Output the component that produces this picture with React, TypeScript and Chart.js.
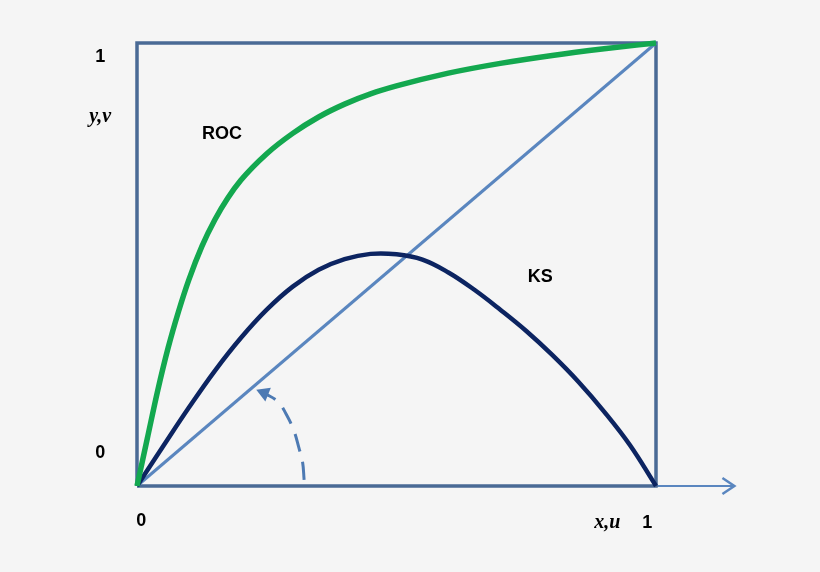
import { useEffect, useRef } from "react";
import { Chart, registerables } from "chart.js";

Chart.register(...registerables);

// curve samples (x = u, y = v)
const rocX = [0, 0.02, 0.04, 0.06, 0.08, 0.1, 0.125, 0.15, 0.175, 0.2, 0.25, 0.3, 0.35, 0.4, 0.45, 0.5, 0.6, 0.7, 0.8, 0.9, 1];
const rocY = [0, 0.108, 0.216, 0.312, 0.394, 0.466, 0.541, 0.601, 0.65, 0.69, 0.75, 0.796, 0.833, 0.862, 0.885, 0.903, 0.932, 0.954, 0.972, 0.987, 1];

const ksX = [0, 0.05, 0.1, 0.15, 0.2, 0.25, 0.3, 0.35, 0.4, 0.45, 0.5, 0.55, 0.6, 0.65, 0.7, 0.75, 0.8, 0.85, 0.9, 0.95, 1];
const ksY = [0, 0.089, 0.177, 0.26, 0.334, 0.398, 0.45, 0.488, 0.512, 0.524, 0.523, 0.511, 0.482, 0.443, 0.398, 0.35, 0.296, 0.236, 0.168, 0.092, 0];

const diagX = [0, 1];
const diagY = [0, 1];

const boxX = [0, 1, 1, 0, 0];
const boxY = [0, 0, 1, 1, 0];

const axisX = [1, 1.151];
const axisY = [0, 0];
const headX = [1.128, 1.151, 1.128];
const headY = [0.018, 0, -0.018];

const arcX = [0.322, 0.319, 0.312, 0.302, 0.287, 0.272, 0.245];
const arcY = [0.014, 0.054, 0.086, 0.126, 0.163, 0.19, 0.21];

const labelText = ["1", "y,v", "0", "0", "x,u", "1", "ROC", "KS"];
const labelX = [-0.071, -0.071, -0.071, 0.008, 0.906, 0.983, 0.164, 0.777];
const labelY = [0.968, 0.833, 0.074, -0.079, -0.084, -0.084, 0.795, 0.472];

const zip = (xs: number[], ys: number[]) => xs.map((x, i) => ({ x, y: ys[i] }));

const labelFont = (t: string) => {
    if (t === "y,v" || t === "x,u") return "italic bold 20px 'Liberation Serif', serif";
    return "bold 18px 'Liberation Sans', Arial, sans-serif";
};

const textPlugin = {
    id: "textLabels",
    beforeDraw: (chart: Chart) => {
        const c = chart.ctx;
        c.save();
        c.fillStyle = "#f5f5f5";
        c.fillRect(0, 0, chart.width, chart.height);
        c.restore();
    },
    afterDatasetsDraw: (chart: Chart) => {
        const c = chart.ctx;
        const xs = chart.scales.x;
        const ys = chart.scales.y;
        c.save();
        c.fillStyle = "#000000";
        c.textAlign = "center";
        c.textBaseline = "middle";
        labelText.forEach((t, i) => {
            c.font = labelFont(t);
            c.fillText(t, xs.getPixelForValue(labelX[i]), ys.getPixelForValue(labelY[i]));
        });
        c.restore();
    },
};

const App = () => {
    const chartRef = useRef<HTMLCanvasElement>(null);
    const chartInstance = useRef<Chart | null>(null);

    useEffect(() => {
        if (!chartRef.current) return;
        if (chartInstance.current) chartInstance.current.destroy();
        const ctx = chartRef.current.getContext("2d");
        if (!ctx) return;

        const line = (data: { x: number; y: number }[], color: string, width: number, extra: any = {}) => ({
            data,
            borderColor: color,
            backgroundColor: color,
            borderWidth: width,
            showLine: true,
            pointRadius: 0,
            fill: false,
            clip: false,
            ...extra,
        });

        const last = arcX.length - 1;

        chartInstance.current = new Chart(ctx, {
            type: "scatter",
            data: {
                datasets: [
                    line(zip(rocX, rocY), "#13a84f", 5.5, { cubicInterpolationMode: "monotone" }),
                    line(zip(ksX, ksY), "#0c2461", 4.5, { tension: 0.4 }),
                    line(zip(diagX, diagY), "#5a86bf", 3),
                    line(zip(arcX, arcY), "#4d7ab3", 3, {
                        tension: 0.4,
                        borderDash: [18, 11],
                        pointRadius: (c: any) => (c.dataIndex === last ? 8.5 : 0),
                        pointStyle: "triangle",
                        pointRotation: -68,
                        pointBorderWidth: 0,
                    }),
                    line(zip(boxX, boxY), "#4a6a95", 3.5),
                    line(zip(axisX, axisY), "#5a86bf", 2),
                    line(zip(headX, headY), "#5a86bf", 2.5),
                ],
            },
            options: {
                responsive: false,
                animation: false,
                layout: { padding: { left: 137, right: 164, top: 43, bottom: 86 } },
                plugins: {
                    legend: { display: false },
                    tooltip: { enabled: false },
                },
                scales: {
                    x: { type: "linear", min: 0, max: 1, display: false },
                    y: { type: "linear", min: 0, max: 1, display: false },
                },
            },
            plugins: [textPlugin],
        });

        return () => {
            if (chartInstance.current) {
                chartInstance.current.destroy();
                chartInstance.current = null;
            }
        };
    }, []);

    return (
        <div style={{ position: "fixed", left: 0, top: 0, width: 820, height: 572, background: "#f5f5f5" }}>
            <canvas ref={chartRef} width={820} height={572}></canvas>
        </div>
    );
};

export default App;
